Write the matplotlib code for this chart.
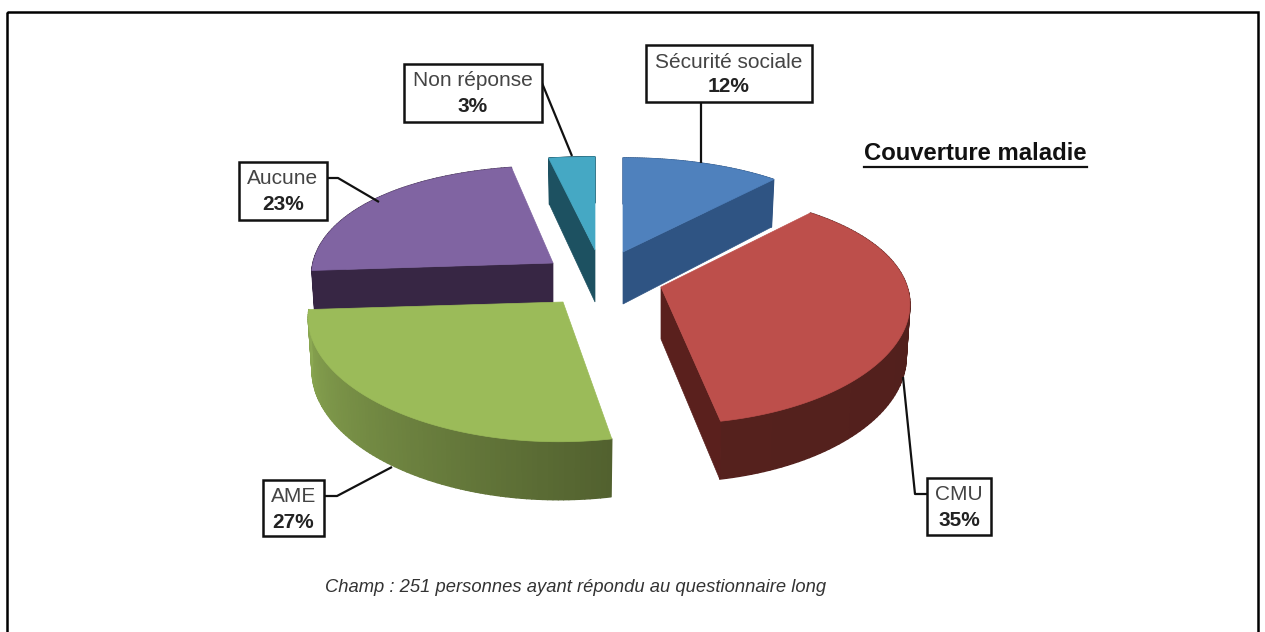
import numpy as np
import matplotlib
matplotlib.use('Agg')
import matplotlib.pyplot as plt
from matplotlib.collections import PolyCollection
from matplotlib.patches import Polygon, Rectangle

plt.rcParams['font.family'] = ['Liberation Sans', 'DejaVu Sans']

# data, in the order of the pie (clockwise from the top)
labels = ['Sécurité sociale', 'CMU', 'AME', 'Aucune', 'Non réponse']
shares = [12, 35, 27, 23, 3]
pct_labels = ['12%', '35%', '27%', '23%', '3%']

# style of each slice
top_colors = ['#4f81bd', '#bd4f4b', '#9bbb59', '#8064a2', '#45a8c4']
cut_colors = ['#2f5483', '#5a201d', '#55662f', '#372644', '#1d5161']
wall_right = ['#2f5483', '#4f1f1c', '#52612f', '#372644', '#1d5161']
wall_left = ['#2f5483', '#55211d', '#8ba852', '#372644', '#1d5161']

# exploded position of each slice apex (pixels), radius scales and shear
apex_x = [623, 661, 563, 553, 595]
apex_y = [252, 287, 302, 263, 250]
rx_scale = [0.965, 0.985, 1.01, 0.96, 1.12]
ry_scale = [0.98, 1.0, 1.02, 1.01, 0.97]
shear = [0, 0.06, -0.03, 0.02, 0]
draw_order = [4, 0, 3, 1, 2]

# callouts : box (x0, y0, x1, y1) and leader line
boxes = [(646, 45, 812, 102), (927, 478, 991, 535), (263, 480, 324, 536),
         (239, 162, 327, 220), (404, 64, 542, 122)]
leaders = [[(701, 102), (701, 163)],
           [(927, 494), (915, 494), (903, 377)],
           [(324, 496), (337, 496), (392, 467)],
           [(327, 178), (338, 178), (379, 202)],
           [(542, 83), (572, 156)]]

RX_BACK, RX_FRONT = 220, 280
RY_BACK, RY_FRONT = 96, 137


def rim(i, t, bottom=False):
    # point on the outer edge of slice i, t in radians clockwise from the top
    c = np.cos(t)
    back = (1 + c) / 2
    rx = (RX_BACK * back + RX_FRONT * (1 - back)) * rx_scale[i]
    ry = (RY_BACK * back + RY_FRONT * (1 - back)) * ry_scale[i]
    y = apex_y[i] - ry * c
    x = apex_x[i] + rx * np.sin(t) + shear[i] * (y - apex_y[i])
    if bottom:
        x = apex_x[i] + (x - apex_x[i]) * 0.985
        y = y + 52 - 6 * c
    return np.column_stack([x, y])


def mix(c1, c2, k):
    a = np.array(matplotlib.colors.to_rgb(c1))
    b = np.array(matplotlib.colors.to_rgb(c2))
    return a + (b - a) * k


fig = plt.figure(figsize=(12.65, 6.32), dpi=100)
ax = fig.add_axes([0, 0, 1, 1])
ax.set_xlim(0, 1265)
ax.set_ylim(632, 0)
ax.axis('off')

ax.add_patch(Rectangle((7, 12), 1251, 640, fill=False, ec='black', lw=1.8))

edges = np.concatenate([[0], np.cumsum(shares)]) / np.sum(shares) * 2 * np.pi

for i in draw_order:
    t1, t2 = edges[i], edges[i + 1]
    ts = np.linspace(t1, t2, 90)
    top = rim(i, ts)
    low = rim(i, ts, bottom=True)

    # curved wall, small quads so the shading can run along it
    quads = []
    cols = []
    for k in range(len(ts) - 1):
        quads.append([top[k], top[k + 1], low[k + 1], low[k]])
        cols.append(mix(wall_right[i], wall_left[i], k / (len(ts) - 2)))
    ax.add_collection(PolyCollection(quads, facecolors=cols, edgecolors=cols, linewidths=1.0))

    # flat cut faces, only the ones turned to the viewer
    apex_top = (apex_x[i], apex_y[i])
    apex_low = (apex_x[i], apex_y[i] + 52)
    for t, normal in [(t1, t1 - np.pi / 2), (t2, t2 + np.pi / 2)]:
        if np.cos(normal) < -1e-6:
            a = rim(i, np.array([t]))[0]
            b = rim(i, np.array([t]), bottom=True)[0]
            ax.add_patch(Polygon([apex_top, a, b, apex_low], fc=cut_colors[i], ec=cut_colors[i], lw=0.5))

    ax.add_patch(Polygon(np.vstack([[apex_top], top]), fc=top_colors[i], ec=top_colors[i], lw=0.5))

for i in range(len(labels)):
    x0, y0, x1, y1 = boxes[i]
    xs = [p[0] for p in leaders[i]]
    ys = [p[1] for p in leaders[i]]
    ax.plot(xs, ys, color='#111111', lw=1.6, solid_capstyle='butt')
    ax.add_patch(Rectangle((x0, y0), x1 - x0, y1 - y0, fc='white', ec='#111111', lw=1.8, zorder=3))
    xc = (x0 + x1) / 2
    ax.text(xc, y0 + 17, labels[i], ha='center', va='center', fontsize=15, color='#444444', zorder=4)
    ax.text(xc, y0 + 42, pct_labels[i], ha='center', va='center', fontsize=15, fontweight='bold',
            color='#222222', zorder=4)

ax.text(975.5, 153, 'Couverture maladie', ha='center', va='center', fontsize=17.2, fontweight='bold', color='#111111')
ax.plot([864, 1087], [167, 167], color='#111111', lw=1.6)

ax.text(575.5, 587, 'Champ : 251 personnes ayant répondu au questionnaire long', ha='center', va='center',
        fontsize=13.2, style='italic', color='#333333')

fig.savefig('out.png', dpi=100)
